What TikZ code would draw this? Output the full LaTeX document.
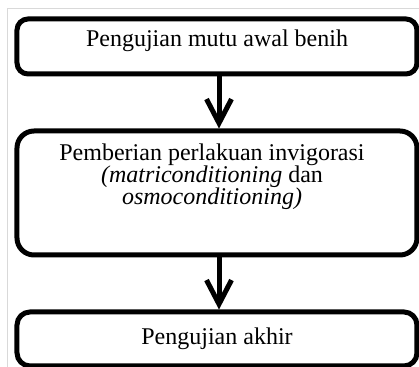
\documentclass[tikz,border=0pt]{standalone}
\usepackage{fontspec}
\setmainfont{Liberation Serif}
\usetikzlibrary{arrows.meta}
\tikzstyle{stepbox}=[draw,line width=2.5pt,minimum width=200pt,inner sep=0pt,font=\fontsize{12}{11}\selectfont]
\tikzstyle{steptext}=[align=center,inner sep=0pt,font=\fontsize{12}{11}\selectfont]
\tikzstyle{flow} = [draw,line width=2.5pt,-{Straight Barb[length=12pt,width=12.5pt]}]

\begin{document}
\begin{tikzpicture}[x=0.5pt,y=-0.5pt]

\useasboundingbox (0,0) rectangle (419,367);
\draw[black!15, line width=0.5pt] (7,367) -- (7,9) -- (419,9);

    % the three steps
    \node[stepbox,rounded corners=5.5pt,minimum height=27.5pt,text depth=8.5pt] (awal) at (217,46.5) {Pengujian mutu awal benih};
    \node[stepbox,rounded corners=8.5pt,minimum height=62pt] (perlakuan) at (217,193) {};
    \node[steptext] (perlakuanisi) at (212,177) {Pemberian perlakuan invigorasi\\ \textit{(matriconditioning} dan\\ \textit{osmoconditioning)}};
    \node[stepbox,rounded corners=6.5pt,minimum height=27pt] (akhir) at (217,339) {Pengujian akhir};

    % arrows between the steps
    \foreach \source/ \dest in {awal/perlakuan, perlakuan/akhir}
        \path[flow] ([xshift=1pt]\source.south) -- ([xshift=1pt]\dest.north);

\end{tikzpicture}
\end{document}
